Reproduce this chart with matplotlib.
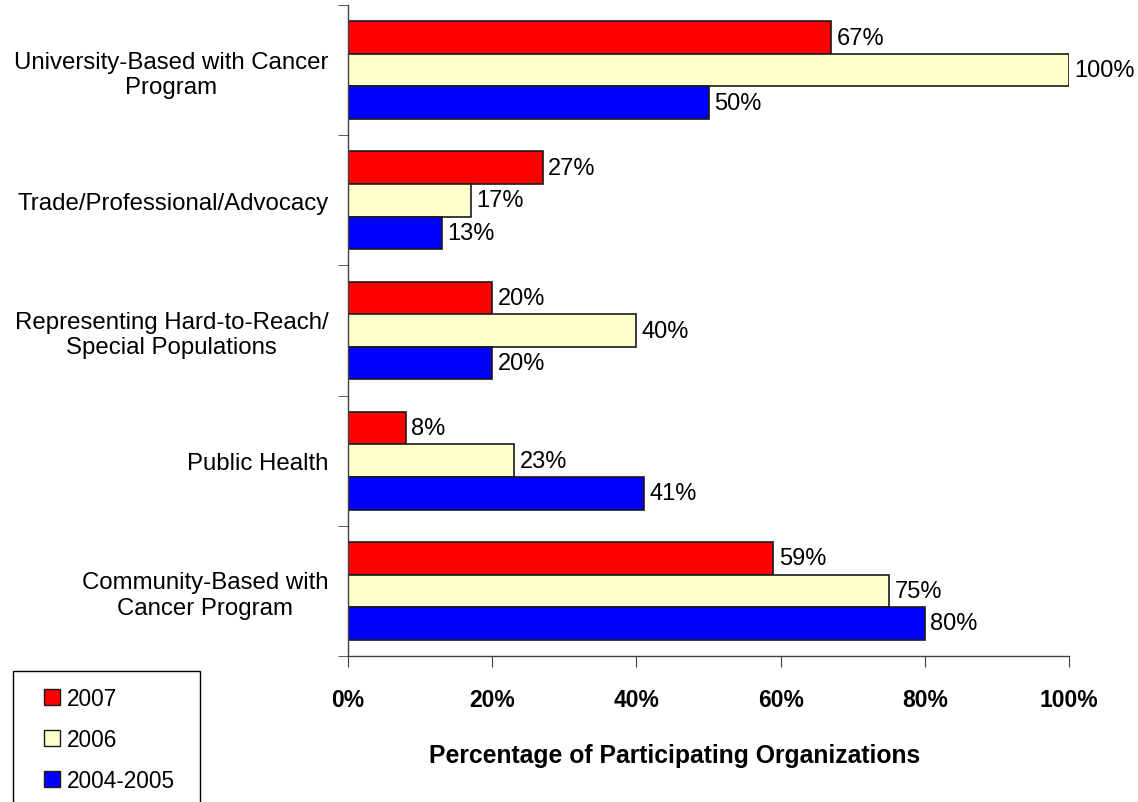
"""Horizontal grouped bar chart: participating organizations by type and year."""

import matplotlib.pyplot as plt
import numpy as np
from matplotlib.patches import Patch, Rectangle
from matplotlib.ticker import FixedLocator, PercentFormatter

plt.rcParams["font.family"] = ["Liberation Sans", "DejaVu Sans"]

CATEGORIES = [
    "University-Based with Cancer\nProgram",
    "Trade/Professional/Advocacy",
    "Representing Hard-to-Reach/\nSpecial Populations",
    "Public Health",
    "Community-Based with\nCancer Program",
]
SERIES = ["2007", "2006", "2004-2005"]
VALUES_2007 = [67, 27, 20, 8, 59]
VALUES_2006 = [100, 17, 40, 23, 75]
VALUES_2004_2005 = [50, 13, 20, 41, 80]
X_TICKS = [0, 20, 40, 60, 80, 100]

COLORS = ["#ff0000", "#ffffcc", "#0000ff"]
EDGE = "#1a1a1a"

W, H = 1138, 803
fig = plt.figure(figsize=(W / 100, H / 100), dpi=100)
ax = fig.add_axes([348 / W, 1 - 657 / H, (1069 - 348) / W, (657 - 6) / H])

n = len(CATEGORIES)
centers = np.arange(n)
bar_h = 0.25
offsets = [-bar_h, 0.0, bar_h]
series_values = [VALUES_2007, VALUES_2006, VALUES_2004_2005]

for values, off, color in zip(series_values, offsets, COLORS):
    y = centers + off
    ax.barh(y, values, height=bar_h, color=color, edgecolor=EDGE, linewidth=1.2)
    for yy, v in zip(y, values):
        ax.annotate(f"{v}%", (v, yy), xytext=(4, 0), textcoords="offset points",
                    va="center", ha="left", fontsize=17)

ax.set_ylim(n - 0.5, -0.5)
ax.set_xlim(0, 100)

ax.set_yticks(centers)
ax.set_yticklabels(CATEGORIES, fontsize=17.3, linespacing=1.2,
                   multialignment="center")
ax.tick_params(axis="y", which="major", length=0, pad=14)
ax.yaxis.set_minor_locator(FixedLocator(np.arange(n + 1) - 0.5))
ax.tick_params(axis="y", which="minor", length=7, direction="out", color="#404040")

ax.set_xticks(X_TICKS)
ax.xaxis.set_major_formatter(PercentFormatter(decimals=0))
ax.tick_params(axis="x", length=8, direction="out", pad=15, labelsize=16.5,
               color="#404040")
for label in ax.get_xticklabels():
    label.set_fontweight("bold")

# the axis title sits a little left of the plot centre in the original
ax.set_xlabel("Percentage of Participating Organizations", fontsize=17.8,
              fontweight="bold", labelpad=23, x=(675 - 348) / (1069 - 348))

for side in ("top", "right"):
    ax.spines[side].set_visible(False)
for side in ("left", "bottom"):
    ax.spines[side].set_color("#404040")
    ax.spines[side].set_linewidth(1.0)

# legend box runs off the bottom edge of the figure, as in the original
fig.add_artist(Rectangle((13 / W, -0.05), (200 - 13) / W, (1 - 672 / H) + 0.05,
                         transform=fig.transFigure, facecolor="white",
                         edgecolor="black", linewidth=1.0))

handles = [Patch(facecolor=c, edgecolor=EDGE, linewidth=1.0) for c in COLORS]
fig.legend(
    handles,
    SERIES,
    loc="upper left",
    bbox_to_anchor=(44 / W, 1 - 688 / H),
    fontsize=16.3,
    frameon=False,
    handlelength=0.7,
    handleheight=0.7,
    handletextpad=0.3,
    labelspacing=0.8,
    borderpad=0,
    borderaxespad=0,
)

fig.savefig("out.png", dpi=100)
